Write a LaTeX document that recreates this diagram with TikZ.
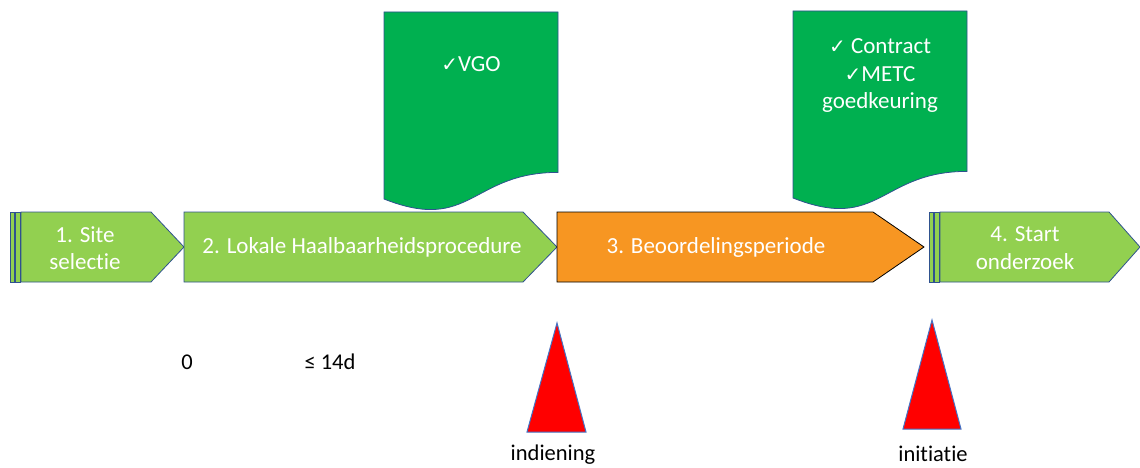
\documentclass[tikz,border=0pt]{standalone}
\usepackage{fontspec}
\setmainfont{Carlito}[Ligatures={NoCommon,NoRequired,NoContextual}]
\newfontfamily\symfont{DejaVu Sans}
\newcommand{\ck}{{\symfont\fontsize{20}{24}\selectfont ✓}}
\definecolor{lgreen}{RGB}{146,208,80}
\definecolor{dgreen}{RGB}{0,176,80}
\definecolor{orng}{RGB}{247,150,34}
\definecolor{edgeblue}{RGB}{47,82,143}
\definecolor{triblue}{RGB}{68,114,196}
\tikzset{
  chev/.style={fill=lgreen,draw=edgeblue,line width=0.8pt},
  docshape/.style={fill=dgreen,draw=edgeblue,line width=0.8pt},
  tri/.style={fill=red,draw=triblue,line width=1pt},
  wtext/.style={text=white,font=\fontsize{23}{27.5}\selectfont,align=center,inner sep=0pt},
  btext/.style={text=black,font=\fontsize{22.5}{27}\selectfont,inner sep=0pt},
}
\begin{document}
\begin{tikzpicture}[x=1pt,y=-1pt]
\useasboundingbox (0,0) rectangle (1140,468);
% document shapes
\draw[docshape] (384,12) -- (558,12) -- (558,172.4)
  .. controls (471,172.4) and (471,233.5) .. (384,199) -- cycle;
\draw[docshape] (793,11) -- (967,11) -- (967,171.4)
  .. controls (880,171.4) and (880,232.5) .. (793,198) -- cycle;
\node[wtext] (vgo) at (471,64) {\ck VGO};
\node[wtext] (metc) at (880,76) {\ck{} Contract\\\ck METC\\goedkeuring};
% chevrons
\draw[chev] (10,212) rectangle (14,282);
\draw[chev] (15,212) rectangle (20,282);
\draw[chev] (21,212) -- (151,212) -- (184,247) -- (151,282) -- (21,282) -- cycle;
\draw[chev] (184,212) -- (523,212) -- (557,247) -- (523,282) -- (184,282) -- cycle;
\draw[fill=orng,draw=black,line width=0.8pt] (557,212) -- (873,212) -- (924,247) -- (873,282) -- (557,282) -- cycle;
\draw[chev] (929,212) rectangle (933,282);
\draw[chev] (934,212) rectangle (939,282);
\draw[chev] (940,212) -- (1109,212) -- (1140,247) -- (1109,282) -- (940,282) -- cycle;
\node[wtext] (s1) at (85,248) {1. Site\\selectie};
\node[wtext] (s2) at (362,247) {2. Lokale Haalbaarheidsprocedure};
\node[wtext] (s3) at (716,247) {3. Beoordelingsperiode};
\node[wtext] (s4) at (1025,248) {4. Start\\onderzoek};
% triangles
\draw[tri] (557,323) -- (586,432) -- (527,432) -- cycle;
\draw[tri] (932,320) -- (961,429) -- (903,429) -- cycle;
\node[btext] (ind) at (553,455) {indiening};
\node[btext] (ini) at (933,454) {initiatie};
\node[btext] (zero) at (187,362) {0};
\node[btext] (d14) at (330,362) {≤ 14d};
\end{tikzpicture}
\end{document}
